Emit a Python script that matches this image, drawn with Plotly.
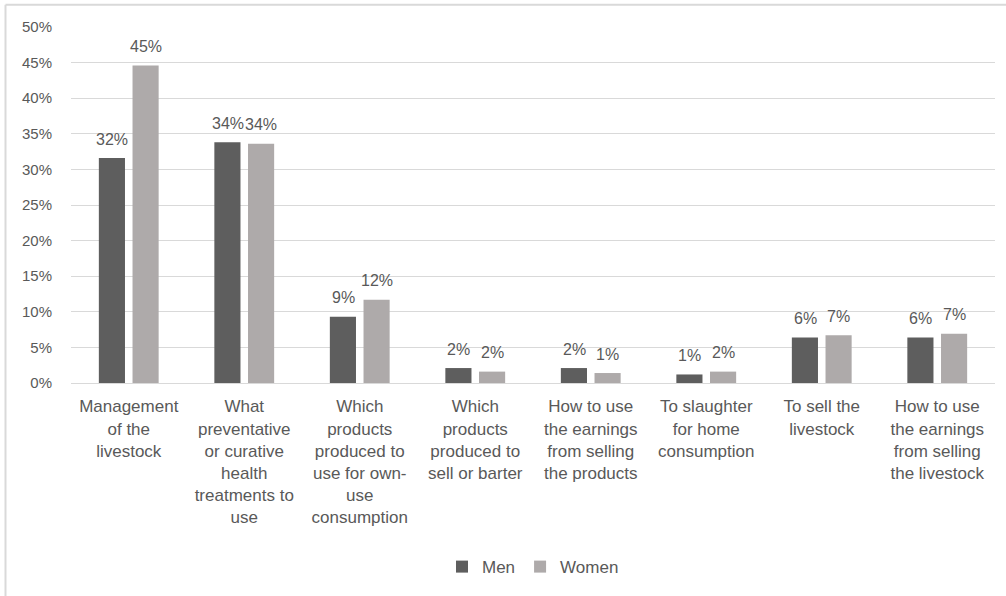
import plotly.graph_objects as go

categories = [
    "Management<br>of the<br>livestock",
    "What<br>preventative<br>or curative<br>health<br>treatments to<br>use",
    "Which<br>products<br>produced to<br>use for own-<br>use<br>consumption",
    "Which<br>products<br>produced to<br>sell or barter",
    "How to use<br>the earnings<br>from selling<br>the products",
    "To slaughter<br>for home<br>consumption",
    "To sell the<br>livestock",
    "How to use<br>the earnings<br>from selling<br>the livestock",
]
men = [0.316, 0.338, 0.093, 0.021, 0.021, 0.012, 0.064, 0.064]
women = [0.446, 0.336, 0.117, 0.016, 0.014, 0.016, 0.067, 0.069]
y_ticks = [0, 0.05, 0.10, 0.15, 0.20, 0.25, 0.30, 0.35, 0.40, 0.45, 0.50]

text_color = "#595959"
font_family = "Liberation Sans"

fig = go.Figure()
fig.add_trace(go.Bar(
    name="Men", x=categories, y=men, marker=dict(color="#5e5e5e", line=dict(width=0)),
))
fig.add_trace(go.Bar(
    name="Women", x=categories, y=women, marker=dict(color="#aeaaaa", line=dict(width=0)),
))

# data labels placed above bars (offset like the original)
for series, xshift in ((men, -16.75), (women, 16.75)):
    for cat, v in zip(categories, series):
        fig.add_annotation(
            x=cat, y=v, xref="x", yref="y", text=f"{round(v * 100)}%",
            showarrow=False, xshift=xshift, yshift=19, yanchor="middle",
            font=dict(size=16, color=text_color, family=font_family),
        )

fig.update_layout(
    width=1006, height=596,
    margin=dict(l=71, r=11, t=27, b=211),
    paper_bgcolor="white", plot_bgcolor="white",
    barmode="group", bargap=0.417, bargroupgap=0.224,
    font=dict(family=font_family, size=16, color=text_color),
    showlegend=True,
    legend=dict(orientation="h", x=0.5, xanchor="center", y=-0.517, yanchor="middle",
                font=dict(size=17, color=text_color), itemwidth=30),
)
fig.update_yaxes(
    range=[0, 0.5], tickvals=y_ticks, tickformat=".0%",
    showgrid=True, gridcolor="#d9d9d9", gridwidth=1,
    zeroline=False, showline=False, ticks="", ticklabelstandoff=18,
    tickfont=dict(size=15, color=text_color),
)
fig.update_xaxes(
    showline=True, linecolor="#d9d9d9", linewidth=1, ticks="",
    tickangle=0, tickfont=dict(size=17, color=text_color), ticklabelstandoff=8,
)
# chart outer border (top and left visible)
fig.add_shape(type="line", xref="paper", yref="paper", x0=-0.0709, x1=1.02, y0=1.0628, y1=1.0628,
              line=dict(color="#d9d9d9", width=2))
fig.add_shape(type="line", xref="paper", yref="paper", x0=-0.0709, x1=-0.0709, y0=1.0628, y1=-0.6,
              line=dict(color="#d9d9d9", width=2))

fig.write_html("out.html")
